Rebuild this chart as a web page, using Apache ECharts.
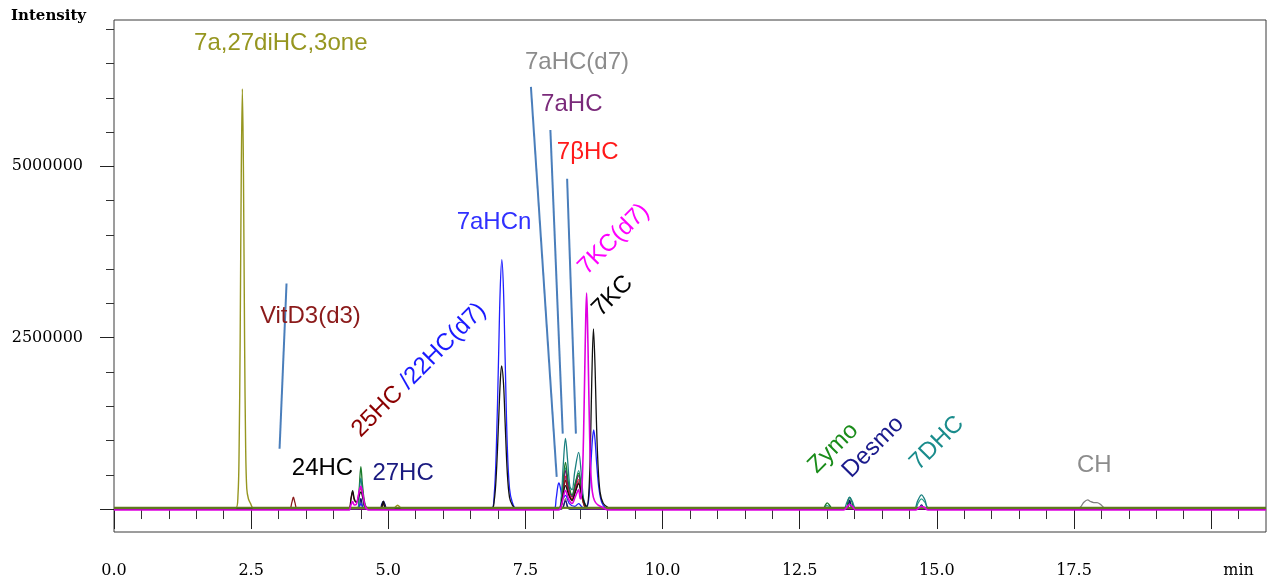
<!DOCTYPE html>
<html>
<head>
<meta charset="utf-8">
<script src="https://cdn.jsdelivr.net/npm/echarts@6/dist/echarts.min.js"></script>
<style>
html,body{margin:0;padding:0;background:#fff;}
#chart{width:1268px;height:583px;}
</style>
</head>
<body>
<div id="chart"></div>
<script>
// ---- Axis definitions ----
const xMajorTicks = [0, 2.5, 5, 7.5, 10, 12.5, 15, 17.5, 20];
const xLabelValues = [0, 2.5, 5, 7.5, 10, 12.5, 15, 17.5];
const xMinorTicks = [0.5, 1, 1.5, 2, 3, 3.5, 4, 4.5, 5.5, 6, 6.5, 7, 8, 8.5, 9, 9.5, 10.5, 11, 11.5, 12, 13, 13.5, 14, 14.5, 15.5, 16, 16.5, 17, 18, 18.5, 19, 19.5, 20.5];
const xUnitLabel = 'min';
const yMajorTicks = [0, 2500000, 5000000];
const yLabelValues = [2500000, 5000000];
const yMinorTicks = [500000, 1000000, 1500000, 2000000, 3000000, 3500000, 4000000, 4500000, 5500000, 6000000, 6500000, 7000000];
const yAxisTitle = 'Intensity';

// ---- Chromatogram traces: [time (min), intensity] ----
const traceOlive = [[0, 15000], [2.22, 15000], [2.26, 200000], [2.28, 830000], [2.30, 2500000], [2.32, 4900000], [2.34, 6130000], [2.36, 4900000], [2.38, 2500000], [2.40, 900000], [2.42, 300000], [2.45, 150000], [2.49, 80000], [2.54, 15000], [5.10, 15000], [5.17, 55000], [5.24, 15000], [21, 15000]];
const traceDarkRed = [[0, 10000], [3.20, 10000], [3.24, 90000], [3.27, 172000], [3.30, 90000], [3.34, 10000], [4.28, 10000], [4.32, 150000], [4.35, 250000], [4.38, 130000], [4.42, 100000], [4.47, 250000], [4.50, 310000], [4.53, 220000], [4.58, 40000], [4.62, 10000], [4.86, 10000], [4.91, 80000], [4.96, 10000], [8.12, 10000], [8.18, 200000], [8.23, 420000], [8.28, 250000], [8.35, 120000], [8.41, 260000], [8.47, 380000], [8.52, 200000], [8.60, 20000], [8.70, 10000], [21, 10000]];
const traceBlack = [[0, 5000], [4.28, 5000], [4.32, 150000], [4.35, 270000], [4.38, 150000], [4.42, 100000], [4.47, 200000], [4.50, 250000], [4.54, 150000], [4.60, 10000], [4.86, 5000], [4.91, 110000], [4.96, 5000], [6.88, 5000], [6.93, 115000], [6.97, 520000], [7.01, 1260000], [7.04, 1840000], [7.065, 2090000], [7.10, 1840000], [7.13, 1260000], [7.17, 520000], [7.21, 170000], [7.26, 60000], [7.33, 5000], [8.10, 5000], [8.17, 150000], [8.23, 343000], [8.29, 200000], [8.35, 130000], [8.41, 250000], [8.47, 367000], [8.53, 200000], [8.59, 60000], [8.62, 40000], [8.66, 300000], [8.69, 1100000], [8.71, 1900000], [8.74, 2630000], [8.77, 2050000], [8.79, 1400000], [8.82, 700000], [8.86, 250000], [8.92, 80000], [9.02, 15000], [9.10, 5000], [21, 5000]];
const traceBlue = [[0, 0], [4.44, 0], [4.50, 80000], [4.56, 0], [6.88, 0], [6.93, 200000], [6.97, 900000], [7.01, 2200000], [7.04, 3200000], [7.07, 3640000], [7.10, 3200000], [7.13, 2200000], [7.17, 900000], [7.21, 300000], [7.26, 100000], [7.33, 10000], [8.02, 0], [8.06, 150000], [8.09, 330000], [8.11, 382000], [8.14, 300000], [8.18, 150000], [8.23, 200000], [8.30, 80000], [8.40, 40000], [8.47, 80000], [8.55, 20000], [8.62, 30000], [8.66, 200000], [8.69, 600000], [8.72, 1000000], [8.745, 1155000], [8.77, 1000000], [8.80, 650000], [8.84, 300000], [8.89, 100000], [8.96, 20000], [9.05, 0], [21, 0]];
const traceMagenta = [[0, -15000], [4.28, -15000], [4.32, 60000], [4.35, 110000], [4.38, 60000], [4.42, 70000], [4.47, 260000], [4.50, 330000], [4.53, 240000], [4.58, 40000], [4.64, -15000], [8.10, -15000], [8.17, 100000], [8.23, 270000], [8.29, 140000], [8.35, 80000], [8.41, 180000], [8.47, 280000], [8.50, 150000], [8.52, 200000], [8.54, 500000], [8.56, 1100000], [8.58, 1950000], [8.60, 2800000], [8.615, 3150000], [8.63, 2800000], [8.65, 1950000], [8.67, 1100000], [8.69, 560000], [8.72, 250000], [8.76, 120000], [8.82, 60000], [8.92, 20000], [9.00, -15000], [13.30, -15000], [13.37, 40000], [13.41, 66000], [13.46, 40000], [13.52, -15000], [14.62, -15000], [14.68, 25000], [14.72, 36000], [14.77, 25000], [14.84, -15000], [21, -15000]];
const traceTeal = [[0, 5000], [4.44, 5000], [4.47, 250000], [4.50, 450000], [4.53, 260000], [4.60, 5000], [8.10, 5000], [8.15, 150000], [8.19, 650000], [8.23, 1030000], [8.27, 700000], [8.31, 330000], [8.35, 280000], [8.40, 550000], [8.47, 828000], [8.52, 500000], [8.56, 150000], [8.62, 30000], [8.70, 5000], [13.30, 5000], [13.36, 100000], [13.41, 172000], [13.46, 110000], [13.53, 5000], [14.58, 5000], [14.65, 120000], [14.72, 207000], [14.78, 140000], [14.86, 5000], [21, 5000]];
const traceTealLight = [[0, 5000], [8.12, 5000], [8.18, 300000], [8.23, 600000], [8.28, 350000], [8.35, 200000], [8.41, 380000], [8.47, 560000], [8.53, 260000], [8.60, 20000], [8.70, 5000], [12.94, 5000], [12.99, 50000], [13.03, 40000], [13.08, 5000], [13.34, 5000], [13.41, 120000], [13.48, 5000], [14.60, 5000], [14.66, 90000], [14.72, 149000], [14.78, 100000], [14.86, 5000], [21, 5000]];
const traceGreen = [[0, 15000], [4.44, 15000], [4.47, 300000], [4.50, 620000], [4.53, 350000], [4.58, 60000], [4.64, 15000], [8.12, 15000], [8.18, 350000], [8.23, 682000], [8.28, 400000], [8.35, 200000], [8.41, 380000], [8.47, 520000], [8.53, 250000], [8.60, 30000], [8.70, 15000], [12.93, 15000], [12.97, 60000], [13.00, 90000], [13.04, 60000], [13.09, 15000], [13.35, 15000], [13.38, 120000], [13.41, 170000], [13.45, 110000], [13.50, 15000], [21, 15000]];
const tracePurple = [[0, -5000], [8.12, -5000], [8.18, 280000], [8.23, 560000], [8.28, 330000], [8.35, 180000], [8.41, 340000], [8.47, 488000], [8.53, 230000], [8.60, 20000], [8.70, -5000], [21, -5000]];
const traceRed = [[0, 0], [8.12, 0], [8.18, 240000], [8.23, 480000], [8.28, 280000], [8.35, 150000], [8.41, 300000], [8.47, 430000], [8.53, 200000], [8.60, 10000], [8.70, 0], [21, 0]];
const traceCyan = [[0, 0], [8.12, 0], [8.18, 230000], [8.23, 464000], [8.28, 270000], [8.35, 140000], [8.41, 280000], [8.47, 400000], [8.53, 190000], [8.60, 10000], [8.70, 0], [21, 0]];
const traceNavy = [[0, 0], [4.44, 0], [4.50, 150000], [4.56, 0], [4.85, 0], [4.88, 70000], [4.91, 114000], [4.94, 70000], [4.98, 0], [8.15, 0], [8.23, 120000], [8.31, 0], [13.35, 0], [13.41, 130000], [13.47, 0], [14.66, 0], [14.72, 60000], [14.78, 0], [21, 0]];
const traceGray = [[0, 0], [8.15, 0], [8.23, 150000], [8.30, 0], [17.55, 0], [17.62, 30000], [17.68, 100000], [17.75, 134000], [17.80, 110000], [17.86, 95000], [17.92, 95000], [17.98, 70000], [18.06, 10000], [18.12, 0], [21, 0]];
const traceBaseline = [[0, 20000], [21, 20000]];

// ---- Annotation texts (data coords) ----
const labelTexts = ['7a,27diHC,3one', '7aHC(d7)', '7aHC', '7\u03B2HC', '7aHCn', 'VitD3(d3)', '7KC(d7)', '7KC', '24HC', '27HC', 'Zymo', 'Desmo', '7DHC', 'CH'];
const labelTimes = [3.04, 8.44, 8.345, 8.636, 6.927, 3.58, 9.11, 9.09, 3.80, 5.27, 13.11, 13.84, 15.00, 17.87];
const labelValues = [6795000, 6518000, 5906000, 5206000, 4185000, 2814000, 3937000, 3106000, 598000, 525000, 889000, 904000, 962000, 642000];
const labelColors = ['#969620', '#8c8c8c', '#7a2a7a', '#ff1a1a', '#3030ff', '#8b1a1a', '#ff00ff', '#000000', '#000000', '#1a1a80', '#1a8c1a', '#1a1a8c', '#1a8c8c', '#8c8c8c'];
const labelAngles = [0, 0, 0, 0, 0, 0, 45, 45, 0, 0, 45, 45, 45, 0];
const mixedLabelParts = ['25HC ', '/22HC(d7)'];
const mixedLabelColors = ['#8b0000', '#1a1aff'];
const mixedLabelPos = [5.56, 2027000];

// ---- Leader lines (data coords) ----
const leaderLines = [
  [[3.145, 3290000], [3.018, 880000]],
  [[7.60, 6160000], [8.07, 470000]],
  [[7.955, 5530000], [8.18, 1100000]],
  [[8.26, 4820000], [8.42, 1100000]]
];

const chart = echarts.init(document.getElementById('chart'), null, {renderer: 'canvas'});

const X_MIN = 0, X_MAX = 21, Y_MIN = -335000, Y_MAX = 7135000;
const serifFont = '"DejaVu Serif", serif';

function lineSeries(name, data, color, width, z) {
  return {
    name: name, type: 'line', data: data, symbol: 'none', smooth: 0.35,
    lineStyle: {color: color, width: width}, z: z || 2, silent: true, animation: false
  };
}

const series = [
  lineSeries('gray', traceGray, '#808080', 1.3),
  lineSeries('cyan', traceCyan, '#20b0c0', 1.2),
  lineSeries('red', traceRed, '#ff2020', 1.2),
  lineSeries('tealLight', traceTealLight, '#2a9a8a', 1.2),
  lineSeries('navy', traceNavy, '#101070', 1.3),
  lineSeries('blue', traceBlue, '#2020ff', 1.3),
  lineSeries('purple', tracePurple, '#800080', 1.3),
  lineSeries('green', traceGreen, '#1a7a2a', 1.3),
  lineSeries('teal', traceTeal, '#1a8080', 1.3),
  lineSeries('darkred', traceDarkRed, '#8b1a1a', 1.3),
  lineSeries('black', traceBlack, '#111111', 1.3),
  lineSeries('olive', traceOlive, '#969620', 1.4),
  lineSeries('baseline', traceBaseline, '#5c7a1e', 2),
  lineSeries('magenta', traceMagenta, '#e000e0', 1.6, 3)
];

leaderLines.forEach(function (seg, i) {
  series.push({
    name: 'leader' + i, type: 'line', data: seg, symbol: 'none',
    lineStyle: {color: '#4a7ebb', width: 2}, z: 4, silent: true, animation: false
  });
});

const option = {
  animation: false,
  backgroundColor: '#ffffff',
  title: {
    text: yAxisTitle, left: 6, top: 4,
    textStyle: {fontFamily: serifFont, fontWeight: 'bold', fontSize: 15, color: '#000'}
  },
  grid: {left: 114, right: 2, top: 20, bottom: 51, show: true, borderColor: '#3a3a3a', borderWidth: 1, containLabel: false},
  xAxis: [
    {
      type: 'value', min: X_MIN, max: X_MAX, offset: 5,
      axisLine: {show: false}, splitLine: {show: false},
      axisTick: {show: true, customValues: xMajorTicks, length: 20, inside: false, lineStyle: {color: '#222', width: 1}},
      axisLabel: {show: true, customValues: xLabelValues, margin: 26, fontFamily: serifFont, fontSize: 16, color: '#000',
        formatter: function (v) { return v.toFixed(1); }}
    },
    {
      type: 'value', min: X_MIN, max: X_MAX, offset: 5, position: 'bottom',
      axisLine: {show: false}, splitLine: {show: false},
      axisTick: {show: true, customValues: xMinorTicks, length: 10, lineStyle: {color: '#333', width: 1}},
      axisLabel: {show: true, customValues: [20.5], margin: 26, fontFamily: serifFont, fontSize: 16, color: '#000',
        formatter: function () { return xUnitLabel; }}
    }
  ],
  yAxis: [
    {
      type: 'value', min: Y_MIN, max: Y_MAX, position: 'left', offset: 0,
      axisLine: {show: false}, splitLine: {show: false},
      axisTick: {show: true, customValues: yMajorTicks, length: 14, lineStyle: {color: '#222', width: 1}},
      axisLabel: {show: true, customValues: yLabelValues, margin: 31, fontFamily: serifFont, fontSize: 16, color: '#000',
        formatter: function (v) { return String(v); }}
    },
    {
      type: 'value', min: Y_MIN, max: Y_MAX, position: 'left', offset: 0,
      axisLine: {show: false}, splitLine: {show: false},
      axisTick: {show: true, customValues: yMinorTicks, length: 8, lineStyle: {color: '#333', width: 1}},
      axisLabel: {show: false}
    }
  ],
  series: series
};

chart.setOption(option);

// ---- Place annotation texts through the chart's own scales ----
const graphics = [];
const labelFont = '"Liberation Sans", Arial, sans-serif';
const labelSize = '24px ';
labelTexts.forEach(function (txt, i) {
  const p = chart.convertToPixel({xAxisIndex: 0, yAxisIndex: 0}, [labelTimes[i], labelValues[i]]);
  graphics.push({
    type: 'text', x: p[0], y: p[1], rotation: labelAngles[i] * Math.PI / 180, z: 10,
    style: {text: txt, fill: labelColors[i], font: labelSize + labelFont, textAlign: 'center', textVerticalAlign: 'middle'}
  });
});
const mp = chart.convertToPixel({xAxisIndex: 0, yAxisIndex: 0}, mixedLabelPos);
graphics.push({
  type: 'text', x: mp[0], y: mp[1], rotation: 45 * Math.PI / 180, z: 10,
  style: {
    text: '{a|' + mixedLabelParts[0] + '}{b|' + mixedLabelParts[1] + '}',
    textAlign: 'center', textVerticalAlign: 'middle',
    rich: {
      a: {fill: mixedLabelColors[0], font: labelSize + labelFont},
      b: {fill: mixedLabelColors[1], font: labelSize + labelFont}
    }
  }
});
chart.setOption({graphic: graphics});
</script>
</body>
</html>
